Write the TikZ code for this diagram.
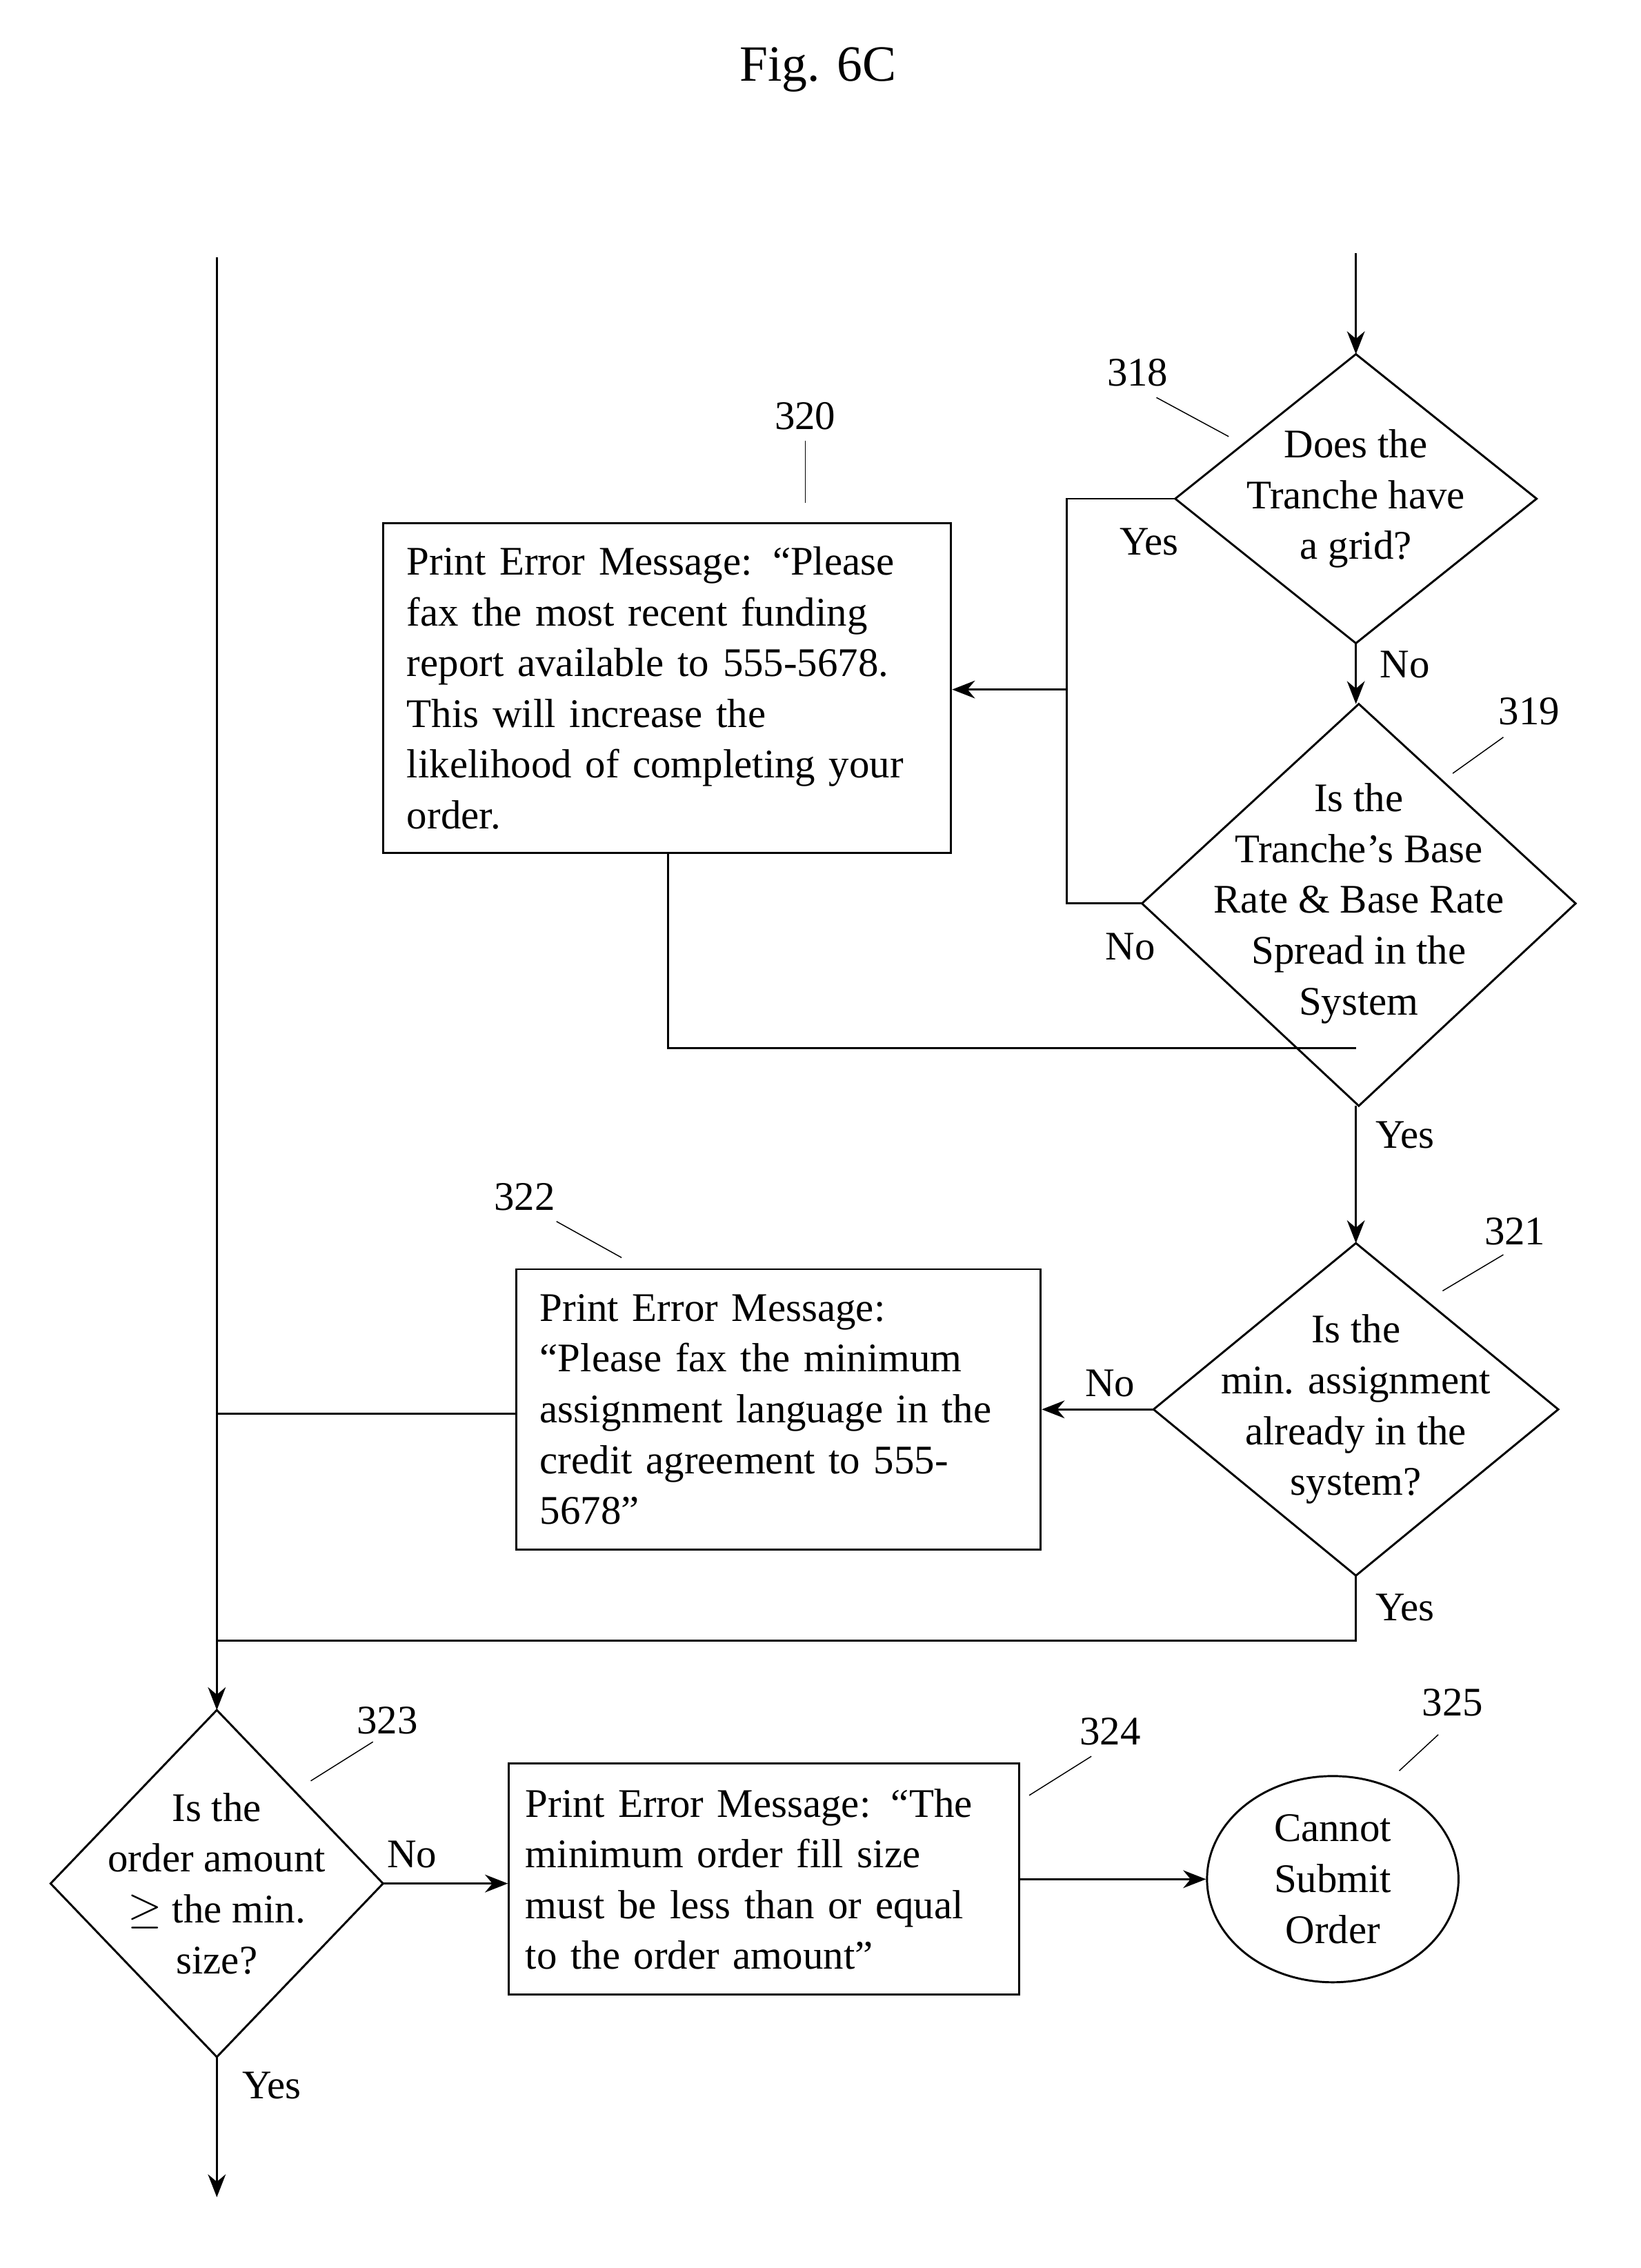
\documentclass[tikz,border=0pt]{standalone}
\usepackage{fontspec}
\setmainfont{Liberation Serif}
\usetikzlibrary{arrows.meta,shapes.geometric}
\tikzset{
  box/.style={draw,thick,align=left,inner sep=0pt},
  txt/.style={align=center,font=\fontsize{16}{20}\selectfont},
  lbl/.style={font=\fontsize{16}{20}\selectfont},
  flow/.style={thick,-{Stealth[length=9pt,width=7pt]}},
}
\newcommand{\dmd}[4]{% name, x, y, half width / half height
  \coordinate (#1-t) at (#2,#3-#4);
  \coordinate (#1-b) at (#2,#3+#4);
}
\begin{document}
\begin{tikzpicture}[x=0.02cm,y=-0.02cm,font=\fontsize{16}{20}\selectfont]
    \useasboundingbox (0,0) rectangle (1135,1569);
    \node[font=\fontsize{20}{24}\selectfont] (title) at (566,48) {Fig. 6C};
    % diamonds
    \draw[thick](813,345)--(938,245)--(1063,345)--(938,445)--cycle;
    \coordinate (d318t) at (938,245); \coordinate (d318b) at (938,445); \coordinate (d318l) at (813,345);
    \node[txt] (q318) at (938,345) {Does the\\Tranche have\\a grid?};
    \draw[thick](790,625)--(940,487)--(1090,625)--(940,765)--cycle;
    \coordinate (d319t) at (938,487); \coordinate (d319b) at (938,765); \coordinate (d319l) at (790,625);
    \node[txt] (q319) at (940,625) {Is the\\Tranche's Base\\Rate \& Base Rate\\Spread in the\\System};
    \draw[thick](798,975)--(938,860)--(1078,975)--(938,1090)--cycle;
    \coordinate (d321t) at (938,860); \coordinate (d321b) at (938,1090); \coordinate (d321l) at (798,975);
    \node[txt] (q321) at (938,975) {Is the\\min. assignment\\already in the\\system?};
    \draw[thick](35,1303)--(150,1183)--(265,1303)--(150,1423)--cycle;
    \coordinate (d323t) at (150,1183); \coordinate (d323b) at (150,1423); \coordinate (d323r) at (265,1303);
    \node[txt] (q323) at (150,1303) {Is the\\order amount\\$\geq$ the min.\\size?};
    % boxes
    \node[box,minimum width=7.86cm,minimum height=4.56cm,text width=7.2cm] (b320) at (461.5,476)
        {Print Error Message: ``Please\\fax the most recent funding\\report available to 555-5678.\\This will increase the\\likelihood of completing your\\order.};
    \node[box,minimum width=7.26cm,minimum height=3.88cm,text width=6.6cm] (b322) at (538.5,975)
        {Print Error Message:\\``Please fax the minimum\\assignment language in the\\credit agreement to 555-\\5678''};
    \node[box,minimum width=7.06cm,minimum height=3.2cm,text width=6.6cm] (b324) at (528.5,1300)
        {Print Error Message: ``The\\minimum order fill size\\must be less than or equal\\to the order amount''};
    \node[draw,thick,ellipse,minimum width=3.48cm,minimum height=2.6cm,txt] (e325) at (922,1300) {Cannot\\Submit\\Order};
    % connectors
    \coordinate (in1) at (938,175);
    \coordinate (in2) at (150,178);
    \coordinate (out) at (150,1520);
    \draw[flow](in1)--(d318t);
    \draw[flow](d318b)--(d319t);
    \draw[thick](d318l)-|(738,625)--(d319l);
    \draw[flow](738,477)--(b320.east|-738,477);
    \draw[thick](b320.south-|462,0)--(462,725)--(938,725);
    \draw[flow](d319b)--(d321t);
    \draw[flow](d321l)--(b322.east|-d321l);
    \draw[thick](b322.west|-150,978)--(150,978);
    \draw[thick](d321b)--(938,1135)--(150,1135);
    \draw[flow](in2)--(d323t);
    \draw[flow](d323r)--(b324.west|-d323r);
    \draw[flow](b324.east|-e325)--(e325.west);
    \draw[flow](d323b)--(out);
    % branch labels
    \node[lbl] (y318) at (795,375) {Yes};
    \node[lbl] (n318) at (972,460) {No};
    \node[lbl] (n319) at (782,655) {No};
    \node[lbl] (y319) at (972,785) {Yes};
    \node[lbl] (n321) at (768,957) {No};
    \node[lbl] (y321) at (972,1112) {Yes};
    \node[lbl] (n323) at (285,1283) {No};
    \node[lbl] (y323) at (188,1443) {Yes};
    % reference numerals
    \node[lbl] (r318) at (787,258) {318}; \draw(800,275)--(850,302);
    \node[lbl] (r319) at (1058,492) {319}; \draw(1005,535)--(1040,510);
    \node[lbl] (r320) at (557,288) {320}; \draw(557,305)--(557,348);
    \node[lbl] (r321) at (1048,852) {321}; \draw(998,893)--(1040,868);
    \node[lbl] (r322) at (363,828) {322}; \draw(385,845)--(430,870);
    \node[lbl] (r323) at (268,1190) {323}; \draw(215,1232)--(258,1205);
    \node[lbl] (r324) at (768,1198) {324}; \draw(712,1242)--(755,1215);
    \node[lbl] (r325) at (1005,1178) {325}; \draw(968,1225)--(995,1200);
\end{tikzpicture}
\end{document}
